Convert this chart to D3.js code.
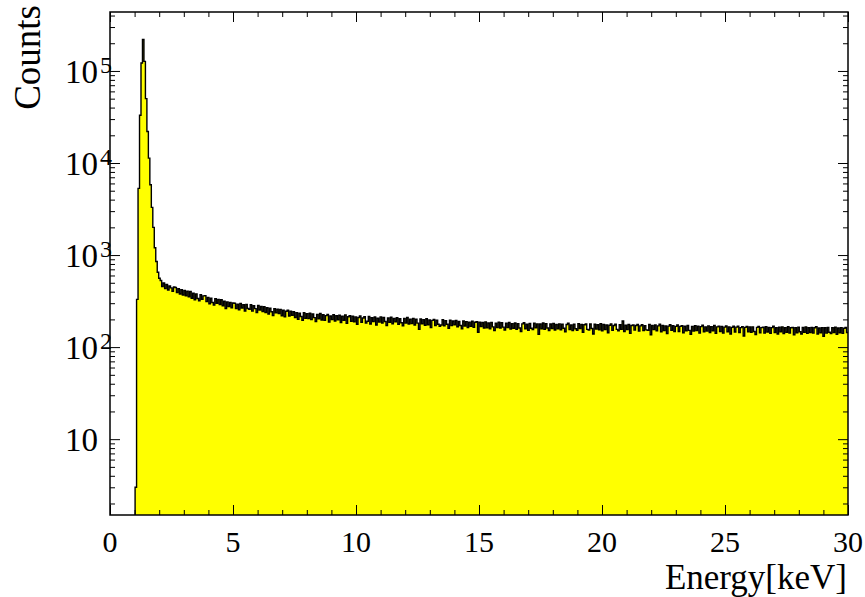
<!DOCTYPE html>
<html><head><meta charset="utf-8">
<script src="https://cdn.jsdelivr.net/npm/d3@7"></script>
<style>
body{margin:0;background:#fff}
svg{display:block}
text{font-family:"Liberation Serif","Times New Roman",serif;fill:#000}
</style>
</head><body>
<svg id="c" width="865" height="597"></svg>
<script>
// ---------- data ----------
const binStart = 1.02;   // keV, low edge of first filled bin
const binWidth = 0.06;   // keV
const peakCounts = [3, 330, 5300, 33000, 122000, 220000, 127000, 50000, 22000, 11300, 5800, 3300, 2000, 1200, 850, 650, 560];
const continuumCounts = [
530,455,497,432,478,418,462,440,405,451,
445,392,431,378,420,368,412,361,405,352,
402,340,385,326,379,337,318,372,331,360,
362,312,347,296,340,305,286,336,300,329,
290,327,281,315,262,310,276,306,268,302,
300,262,293,255,298,266,289,247,291,263,
257,288,246,281,262,238,284,253,276,244,
275,238,268,229,265,242,220,262,236,258,
232,257,219,251,214,245,252,218,246,222,
242,210,237,200,234,215,196,236,206,231,
204,234,199,229,209,190,227,203,232,197,
225,195,220,227,187,218,199,225,192,219,
198,222,185,216,196,224,181,214,219,191,
217,188,213,177,210,218,186,207,214,182,
191,215,178,209,189,212,174,206,187,213,
183,210,190,172,207,186,211,179,205,188,
209,177,203,184,170,205,182,210,178,201,
180,205,174,201,182,156,202,179,199,173,
203,175,197,163,195,200,172,196,177,168,
174,198,170,194,177,160,196,171,192,175,
195,166,190,172,158,192,169,189,163,187,
168,191,164,186,189,145,187,167,185,161,
188,162,183,158,185,166,151,182,163,186,
161,184,165,153,182,163,185,157,180,160,
183,156,180,161,148,179,184,158,177,152,
181,160,155,182,162,179,138,178,158,183,
156,180,161,151,178,159,181,153,176,158,
179,154,177,160,147,176,182,155,174,151,
177,158,152,180,159,176,145,175,178,156,
153,178,159,139,177,157,175,154,180,150,
176,155,174,143,173,179,152,172,177,156,
150,175,156,192,148,173,155,176,141,172,
174,153,172,176,149,170,175,151,171,154,
152,176,136,172,155,174,150,170,177,147,
172,151,170,140,169,175,152,171,148,168,
174,148,168,171,143,169,150,172,152,138,
168,149,171,151,169,142,167,173,147,166,
149,170,144,167,150,172,141,166,169,148,
168,142,165,170,147,166,139,164,169,146,
165,169,144,163,167,132,164,168,147,166,
145,166,148,137,164,168,143,163,165,142,
167,146,164,141,163,169,144,162,139,165,
147,166,140,163,145,167,142,162,164,136,
163,143,165,147,139,164,145,166,141,162,
144,164,142,162,167,139,161,143,163,131,
162,142,164,145,140,163,144,165,138,161,
143,163,141,160,164,144
];
const counts = peakCounts.concat(continuumCounts);

const xDomain = [0, 30];
const yDomain = [1.5, 4.37e5];
const xTickValues = [0, 5, 10, 15, 20, 25, 30];
const xTickLabels = ["0", "5", "10", "15", "20", "25", "30"];
const yTickValues = [10, 100, 1000, 10000, 100000];
const yTickBase = ["10", "10", "10", "10", "10"];
const yTickExp = ["", "2", "3", "4", "5"];
const xTitle = "Energy[keV]";
const yTitle = "Counts";

// ---------- layout ----------
const L = 110, R = 848, T = 12, B = 515;
const x = d3.scaleLinear().domain(xDomain).range([L, R]);
const y = d3.scaleLog().domain(yDomain).range([B, T]).clamp(true);
const svg = d3.select("#c");

svg.append("defs").append("clipPath").attr("id", "clip")
  .append("rect").attr("x", L).attr("y", T).attr("width", R - L).attr("height", B - T);

// step points
const pts = [[binStart, yDomain[0]]];
counts.forEach((c, i) => pts.push([binStart + i * binWidth, Math.max(c, yDomain[0])]));
pts.push([binStart + counts.length * binWidth, Math.max(counts[counts.length - 1], yDomain[0])]);

const area = d3.area().x(d => x(d[0])).y0(B).y1(d => y(d[1])).curve(d3.curveStepAfter);
const line = d3.line().x(d => x(d[0])).y(d => y(d[1])).curve(d3.curveStepAfter);

const g = svg.append("g").attr("clip-path", "url(#clip)");
g.append("path").datum(pts).attr("d", area).attr("fill", "#ffff00").attr("stroke", "none");
g.append("path").datum(pts).attr("d", line).attr("fill", "none").attr("stroke", "#000").attr("stroke-width", 1.4);

// ---------- axes ----------
const xMinor = d3.range(xDomain[0], xDomain[1] + 1, 1).filter(v => !xTickValues.includes(v));
const yMinor = [];
for (let d = 0; d <= 5; d++) for (let k = 2; k <= 9; k++) {
  const v = k * Math.pow(10, d);
  if (v >= yDomain[0] && v <= yDomain[1]) yMinor.push(v);
}
function styleAxis(sel) {
  sel.select(".domain").remove();
  sel.selectAll("line").attr("stroke", "#000").attr("stroke-width", 1);
}
svg.append("g").attr("transform", `translate(0,${B})`)
  .call(d3.axisBottom(x).tickValues(xTickValues).tickSize(-10).tickFormat("")).call(styleAxis);
svg.append("g").attr("transform", `translate(0,${B})`)
  .call(d3.axisBottom(x).tickValues(xMinor).tickSize(-5).tickFormat("")).call(styleAxis);
svg.append("g").attr("transform", `translate(0,${T})`)
  .call(d3.axisTop(x).tickValues(xTickValues).tickSize(-10).tickFormat("")).call(styleAxis);
svg.append("g").attr("transform", `translate(0,${T})`)
  .call(d3.axisTop(x).tickValues(xMinor).tickSize(-5).tickFormat("")).call(styleAxis);
svg.append("g").attr("transform", `translate(${L},0)`)
  .call(d3.axisLeft(y).tickValues(yTickValues).tickSize(-10).tickFormat("")).call(styleAxis);
svg.append("g").attr("transform", `translate(${L},0)`)
  .call(d3.axisLeft(y).tickValues(yMinor).tickSize(-5).tickFormat("")).call(styleAxis);
svg.append("g").attr("transform", `translate(${R},0)`)
  .call(d3.axisRight(y).tickValues(yTickValues).tickSize(-10).tickFormat("")).call(styleAxis);
svg.append("g").attr("transform", `translate(${R},0)`)
  .call(d3.axisRight(y).tickValues(yMinor).tickSize(-5).tickFormat("")).call(styleAxis);

// frame
svg.append("rect").attr("x", L).attr("y", T).attr("width", R - L).attr("height", B - T)
  .attr("fill", "none").attr("stroke", "#000").attr("stroke-width", 1.5);

// x tick labels
svg.append("g").selectAll("text").data(xTickValues).join("text")
  .attr("x", d => x(d)).attr("y", 552).attr("text-anchor", "middle")
  .style("font-size", "30px").text((d, i) => xTickLabels[i]);

// y tick labels
const yl = svg.append("g").selectAll("g").data(yTickValues).join("g")
  .attr("transform", d => `translate(0,${y(d)})`);
yl.append("text").attr("x", 98).attr("y", 12)
  .attr("text-anchor", "end").style("font-size", "33px").text((d, i) => yTickBase[i]);
yl.append("text").attr("x", 100).attr("y", 2)
  .attr("text-anchor", "start").style("font-size", "24px").text((d, i) => yTickExp[i]);

// titles
svg.append("text").attr("x", 847).attr("y", 589).attr("text-anchor", "end")
  .style("font-size", "35px").text(xTitle);
svg.append("text").attr("transform", "translate(40,5) rotate(-90)").attr("text-anchor", "end")
  .style("font-size", "37px").text(yTitle);
</script>
</body></html>
